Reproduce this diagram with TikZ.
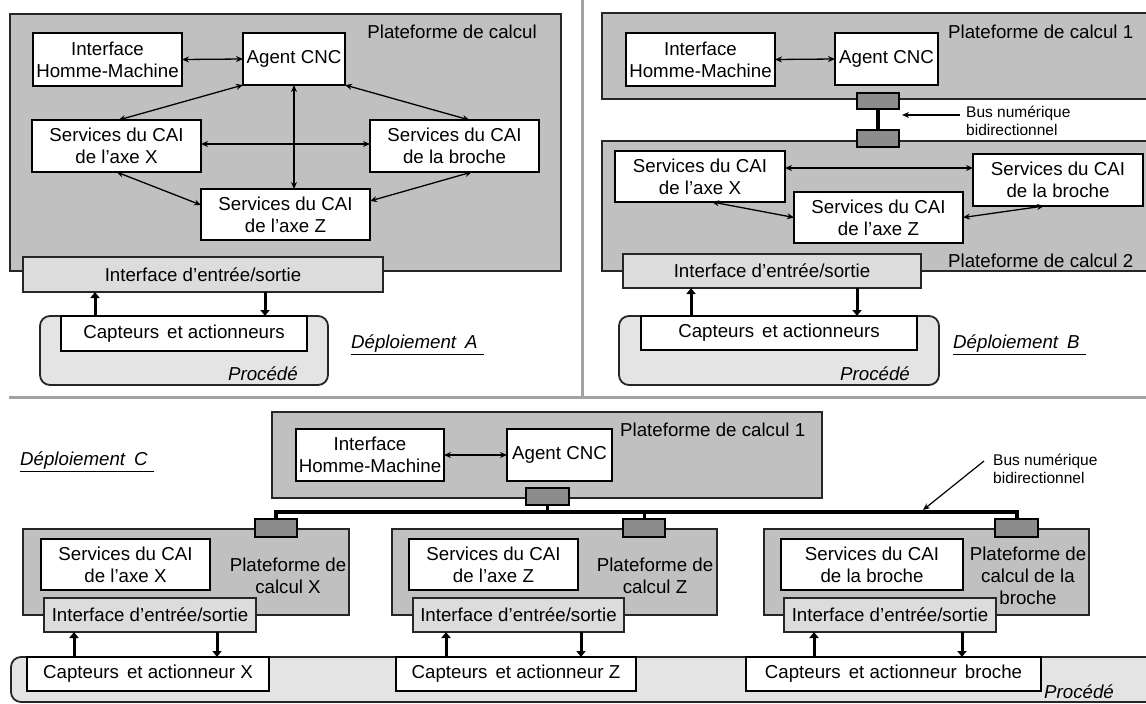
\documentclass[tikz,border=0pt]{standalone}
\usepackage{fontspec}
\setmainfont{Liberation Sans}
\usetikzlibrary{arrows.meta,calc}

\definecolor{platgray}{HTML}{C0C0C0}
\definecolor{iogray}{HTML}{DCDCDC}
\definecolor{procgray}{HTML}{E4E4E4}
\definecolor{conngray}{HTML}{8C8C8C}
\definecolor{sepgray}{HTML}{A2A2A2}

\newcommand\mainfs{\fontsize{18.7}{22}\selectfont}
\newcommand\smallfs{\fontsize{15.5}{18}\selectfont}

% box given by its corners: style, name, x1, y1, x2, y2, text
\newcommand\rbox[7]{%
  \node[#1, minimum width={(#5)-(#3)}, minimum height={(#6)-(#4)}]
    (#2) at ({((#3)+(#5))/2},{((#4)+(#6))/2}) {#7};}

\tikzset{
  base/.style={inner sep=0pt, outer sep=0pt, align=center, font=\mainfs},
  wbox/.style={base, draw=black, line width=1.8pt, fill=white},
  plat/.style={base, draw=black!85, line width=1.8pt, fill=platgray},
  iobox/.style={base, draw=black!85, line width=1.8pt, fill=iogray},
  procbox/.style={base, draw=black!85, line width=1.8pt, fill=procgray, rounded corners=10pt},
  conn/.style={base, draw=black, line width=1.8pt, fill=conngray},
  lbl/.style={inner sep=0pt, font=\mainfs, align=center},
  small/.style={inner sep=0pt, font=\smallfs, align=left},
  link/.style={line width=1.3pt, {Stealth[length=7pt,width=6pt]}-{Stealth[length=7pt,width=6pt]}},
  ioarrow/.style={line width=3pt, -{Triangle[length=6pt,width=9pt]}},
  busline/.style={line width=4pt},
  pointer/.style={line width=1.2pt, -{Stealth[length=7pt,width=6pt]}},
  sep/.style={line width=3pt, draw=sepgray},
}

\begin{document}
\begin{tikzpicture}[x=1pt,y=-1pt]
\useasboundingbox (0,0) rectangle (1146,704);
\clip (0,0) rectangle (1146,704);
\fill[white] (0,0) rectangle (1146,704);

% separators between the three deployments
\draw[sep] (582,0) -- (582,397);
\draw[sep] (9,397) -- (1146,397);

% ---------------- Deploiement A ----------------
\rbox{plat}{pA}{10}{14}{561}{271}{}
\node[lbl, anchor=east] (pAl) at (537,32) {Plateforme de calcul};
\rbox{wbox}{ihmA}{33}{33}{182}{86}{Interface\\Homme-Machine}
\rbox{wbox}{agA}{243}{33}{345}{85}{Agent CNC}
\rbox{wbox}{sxA}{32}{120}{201}{172}{Services du CAI\\de l'axe X}
\rbox{wbox}{sbA}{370}{120}{539}{172}{Services du CAI\\de la broche}
\rbox{wbox}{szA}{201}{189}{370}{240}{Services du CAI\\de l'axe Z}
\rbox{iobox}{esA}{23}{257}{383}{292}{Interface d'entrée/sortie}
\rbox{procbox}{prA}{40}{316}{328}{385}{}
\node[lbl, anchor=east, font=\mainfs\itshape] (prAl) at (298,374) {Procédé};
\rbox{wbox}{caA}{61}{316}{307}{351}{Capteurs\hspace{0.15em} et actionneurs}
\node[lbl, anchor=west] (depA) at (351,345) {\underline{\textit{Déploiement\hspace{0.2em} A}\hspace{6pt}}};

\draw[link] (ihmA.east) -- (agA.west);
\draw[link] (agA.south west) -- ([xshift=2]sxA.north);
\draw[link] (agA.south east) -- ([xshift=15]sbA.north);
\draw[link] (agA.south) -- (agA.south |- szA.north);
\draw[link] ([yshift=2]sxA.east) -- ([yshift=2]sbA.west);
\draw[link] (sxA.south) -- ([yshift=9.5]szA.west);
\draw[link] ([xshift=17.5]sbA.south) -- ([yshift=13.5]szA.east);
\draw[ioarrow] ([xshift=-89]caA.north) -- ([xshift=-89]caA.north |- esA.south);
\draw[ioarrow] ([xshift=81]caA.north |- esA.south) -- ([xshift=81]caA.north);

% ---------------- Deploiement B ----------------
\rbox{plat}{p1B}{602}{13}{1170}{99}{}
\node[lbl, anchor=west] (p1Bl) at (948,32) {Plateforme de calcul 1};
\rbox{wbox}{ihmB}{626}{33}{775}{86}{Interface\\Homme-Machine}
\rbox{wbox}{agB}{835}{33}{938}{85}{Agent CNC}
\rbox{plat}{p2B}{602}{141}{1170}{271}{}
\node[lbl, anchor=west] (p2Bl) at (948,261) {Plateforme de calcul 2};
\rbox{conn}{c1B}{857}{93}{899}{109}{}
\rbox{conn}{c2B}{857}{130}{899}{147}{}
\draw[busline] (c1B.south) -- (c2B.north);
\node[small, anchor=west] (busB) at (966,121) {Bus numérique\\bidirectionnel};
\coordinate (busTipB) at (902,115);
\draw[pointer] ([xshift=-6,yshift=6]busB.west) -- (busTipB);

\rbox{wbox}{sxB}{615}{151}{785}{202}{Services du CAI\\de l'axe X}
\rbox{wbox}{sbB}{973}{154}{1143}{206}{Services du CAI\\de la broche}
\rbox{wbox}{szB}{794}{192}{963}{243}{Services du CAI\\de l'axe Z}
\rbox{iobox}{esB}{623}{254}{921}{288}{Interface d'entrée/sortie}
\rbox{procbox}{prB}{619}{316}{939}{385}{}
\node[lbl, anchor=east, font=\mainfs\itshape] (prBl) at (910,374) {Procédé};
\rbox{wbox}{caB}{641}{316}{917}{350}{Capteurs\hspace{0.15em} et actionneurs}
\node[lbl, anchor=west] (depB) at (953,345) {\underline{\textit{Déploiement\hspace{0.2em} B}\hspace{6pt}}};

\draw[link] (ihmB.east) -- (agB.west);
\draw[link] ([yshift=8.5]sxB.east) -- ([yshift=8.5]sxB.east -| sbB.west);
\draw[link] ([xshift=12]sxB.south) -- (szB.west);
\draw[link] ([xshift=-14]sbB.south) -- (szB.east);
\draw[ioarrow] ([xshift=-88]caB.north) -- ([xshift=-88]caB.north |- esB.south);
\draw[ioarrow] ([xshift=78]caB.north |- esB.south) -- ([xshift=78]caB.north);

% ---------------- Deploiement C ----------------
\node[lbl, anchor=west] (depC) at (20,462) {\underline{\textit{Déploiement\hspace{0.2em} C}\hspace{6pt}}};

% process bar along the bottom
\rbox{procbox}{prC}{11}{657}{1175}{702}{}
\node[lbl, anchor=west, font=\mainfs\itshape] (prCl) at (1044,692) {Procédé};

% computing platform 1
\rbox{plat}{p1C}{272}{412}{822}{498}{}
\node[lbl, anchor=west] (p1Cl) at (620,430) {Plateforme de calcul 1};
\rbox{wbox}{ihmC}{296}{429}{444}{481}{Interface\\Homme-Machine}
\rbox{wbox}{agC}{507}{429}{612}{481}{Agent CNC}
\draw[link] (ihmC.east) -- (agC.west);

% X axis platform
\rbox{plat}{pX}{23}{529}{349}{615}{}
\node[lbl] (pXl) at (288,575.5) {Plateforme de\\calcul X};
\rbox{wbox}{sxC}{41}{539}{210}{590}{Services du CAI\\de l'axe X}
\rbox{iobox}{esX}{44}{598}{256}{632}{Interface d'entrée/sortie}
\rbox{wbox}{caX}{27}{657}{269}{691}{Capteurs\hspace{0.15em} et actionneur X}
\draw[ioarrow] ([xshift=-74]caX.north) -- ([xshift=-74]caX.north |- esX.south);
\draw[ioarrow] ([xshift=69]caX.north |- esX.south) -- ([xshift=69]caX.north);

% Z axis platform
\rbox{plat}{pZ}{392}{529}{717}{615}{}
\node[lbl] (pZl) at (655,575.5) {Plateforme de\\calcul Z};
\rbox{wbox}{szC}{409}{539}{578}{590}{Services du CAI\\de l'axe Z}
\rbox{iobox}{esZ}{413}{598}{624}{632}{Interface d'entrée/sortie}
\rbox{wbox}{caZ}{396}{657}{636}{691}{Capteurs\hspace{0.15em} et actionneur Z}
\draw[ioarrow] ([xshift=-70]caZ.north) -- ([xshift=-70]caZ.north |- esZ.south);
\draw[ioarrow] ([xshift=65]caZ.north |- esZ.south) -- ([xshift=65]caZ.north);

% spindle platform
\rbox{plat}{pBr}{764}{529}{1089}{615}{}
\node[lbl] (pBrl) at (1028,576) {Plateforme de\\calcul de la\\broche};
\rbox{wbox}{sbC}{781}{539}{963}{590}{Services du CAI\\de la broche}
\rbox{iobox}{esBr}{784}{598}{996}{632}{Interface d'entrée/sortie}
\rbox{wbox}{caBr}{746}{657}{1041}{691}{Capteurs\hspace{0.15em} et actionneur\hspace{0.15em} broche}
\draw[ioarrow] ([xshift=-79.5]caBr.north) -- ([xshift=-79.5]caBr.north |- esBr.south);
\draw[ioarrow] ([xshift=68.5]caBr.north |- esBr.south) -- ([xshift=68.5]caBr.north);

% digital bus
\coordinate (busy) at (0,512);
\rbox{conn}{c1C}{526}{488}{569}{505}{}
\rbox{conn}{cX}{255}{519}{297}{537}{}
\rbox{conn}{cZ}{623}{519}{665}{537}{}
\rbox{conn}{cBr}{995}{519}{1038}{537}{}
\draw[busline] (cX.north) -- (cX.north |- busy) -| (cBr.north);
\draw[line width=3pt] (c1C.south) -- (c1C.south |- busy);
\draw[line width=3pt] (cZ.north) -- (cZ.north |- busy);
\node[small, anchor=west] (busC) at (993,468.5) {Bus numérique\\bidirectionnel};
\coordinate (busTipC) at (923,510);
\draw[pointer] ([xshift=-9,yshift=7.5]busC.west) -- (busTipC);
\end{tikzpicture}
\end{document}
